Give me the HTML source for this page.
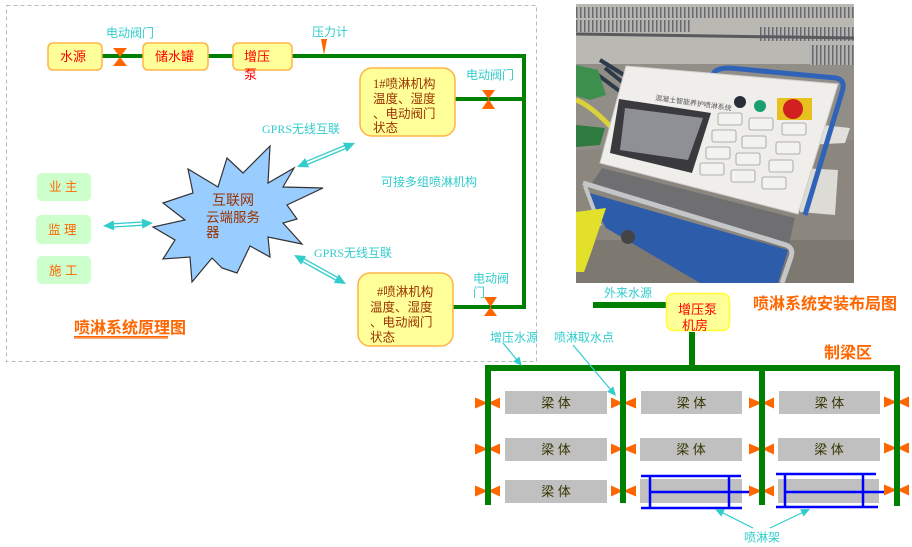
<!DOCTYPE html>
<html><head><meta charset="utf-8"><style>
html,body{margin:0;padding:0;background:#fff;}
body{width:912px;height:547px;overflow:hidden;}
svg{display:block;}
text{font-family:"Liberation Sans","Noto Sans CJK SC",sans-serif;}
.cy{fill:#33cccc;font-size:12px;}
.serif{font-family:"Liberation Serif","Noto Sans CJK SC",serif;}
</style></head><body>
<svg width="912" height="547" viewBox="0 0 912 547" xmlns="http://www.w3.org/2000/svg">
<defs>
<clipPath id="pc"><rect x="576" y="4" width="278" height="279"/></clipPath>
<pattern id="gr" width="4" height="4" patternUnits="userSpaceOnUse"><rect width="4" height="4" fill="#b4b4b4"/><rect width="1.5" height="4" fill="#6a6a6c"/></pattern>
</defs>

<!-- dashed frame -->
<rect x="6.5" y="5.5" width="530" height="356" fill="none" stroke="#bbbbbb" stroke-width="1" stroke-dasharray="4,3"/>

<!-- top pipe -->
<line x1="100" y1="56" x2="526" y2="56" stroke="#008000" stroke-width="4"/>
<line x1="524" y1="54" x2="524" y2="309" stroke="#008000" stroke-width="4"/>
<line x1="453" y1="99" x2="526" y2="99" stroke="#008000" stroke-width="4"/>
<line x1="451" y1="307" x2="526" y2="307" stroke="#008000" stroke-width="4"/>

<!-- boxes top row -->
<rect x="48" y="43" width="54" height="27" rx="5" fill="#ffff99" stroke="#ffb347" stroke-width="1.5"/>
<text x="60" y="61" font-size="13" fill="#ff0000">水源</text>
<rect x="143" y="43" width="65" height="27" rx="5" fill="#ffff99" stroke="#ffb347" stroke-width="1.5"/>
<text x="155" y="61" font-size="13" fill="#ff0000">储水罐</text>
<rect x="233" y="43" width="59" height="27" rx="5" fill="#ffff99" stroke="#ffb347" stroke-width="1.5"/>
<text x="244" y="61" font-size="13" fill="#ff0000">增压</text>
<text x="244" y="79" font-size="13" fill="#ff0000">泵</text>

<!-- valve top -->
<polygon points="113,48 127,48 120,57" fill="#ff6600"/>
<polygon points="113,66 127,66 120,57" fill="#ff6600"/>
<text x="106" y="37" class="cy">电动阀门</text>

<!-- pressure gauge -->
<polygon points="321,39 327,39 324,55" fill="#ff6600"/>
<text x="312" y="36" class="cy">压力计</text>

<!-- 1# box -->
<rect x="360" y="68" width="95" height="68" rx="12" fill="#ffff99" stroke="#ffb347" stroke-width="1.5"/>
<text font-size="12.5" fill="#993300"><tspan x="373" y="88"><tspan class="serif">1#</tspan>喷淋机构</tspan><tspan x="373" y="103">温度、湿度</tspan><tspan x="373" y="118">、电动阀门</tspan><tspan x="373" y="132">状态</tspan></text>
<polygon points="482,90 495,90 488.5,99" fill="#ff6600"/>
<polygon points="482,109 495,109 488.5,99" fill="#ff6600"/>
<text x="466" y="79" class="cy">电动阀门</text>

<!-- bottom machine box -->
<rect x="358" y="273" width="95" height="73" rx="12" fill="#ffff99" stroke="#ffb347" stroke-width="1.5"/>
<text font-size="12.5" fill="#993300"><tspan x="377" y="296"><tspan class="serif">#</tspan>喷淋机构</tspan><tspan x="370" y="311.5">温度、湿度</tspan><tspan x="370" y="326.5">、电动阀门</tspan><tspan x="370" y="341.5">状态</tspan></text>
<polygon points="484,297 497,297 490.5,307" fill="#ff6600"/>
<polygon points="484,316 497,316 490.5,307" fill="#ff6600"/>
<text x="473" y="282.5" class="cy">电动阀</text>
<text x="473" y="296.5" class="cy">门</text>

<text x="381" y="186" class="cy">可接多组喷淋机构</text>
<text x="262" y="133" class="cy"><tspan class="serif">GPRS</tspan>无线互联</text>
<text x="314" y="257" class="cy"><tspan class="serif">GPRS</tspan>无线互联</text>

<!-- green role boxes -->
<rect x="37" y="173" width="54" height="28" rx="5" fill="#ccffcc"/>
<text x="49" y="191" font-size="12.5" fill="#ff6600" xml:space="preserve">业 主</text>
<rect x="36" y="215" width="55" height="29" rx="5" fill="#ccffcc"/>
<text x="48" y="234" font-size="12.5" fill="#ff6600" xml:space="preserve">监 理</text>
<rect x="37" y="256" width="54" height="28" rx="5" fill="#ccffcc"/>
<text x="49" y="275" font-size="12.5" fill="#ff6600" xml:space="preserve">施 工</text>

<!-- star -->
<polygon points="270,146 268,183 294,168 283,187 323,188 287,205 297,219 283,223 302,244 268,237 270,257 250,246 237,273 222,268 212,258 192,282 190,257 163,259 175,240 153,227 185,220 163,203 193,193 188,169 218,187 227,158 243,173" fill="#99ccff" stroke="#333333" stroke-width="1.2" stroke-linejoin="miter"/>
<text x="212" y="205" font-size="14" fill="#993300">互联网</text>
<text x="206" y="222" font-size="13.5" fill="#993300">云端服务</text>
<text x="206" y="237" font-size="13.5" fill="#993300">器</text>

<!-- double arrows -->
<g fill="#33cccc" stroke="#33cccc">
<g transform="translate(103,226) rotate(-3.43)">
<polygon points="0,0 11,-5 11,5" stroke="none"/><polygon points="50.1,0 39.1,-5 39.1,5" stroke="none"/>
<line x1="10" y1="-1.6" x2="40" y2="-1.6" stroke-width="1.3"/><line x1="10" y1="1.6" x2="40" y2="1.6" stroke-width="1.3"/>
</g>
<g transform="translate(297,167) rotate(-22.48)">
<polygon points="0,0 11,-5 11,5" stroke="none"/><polygon points="62.8,0 51.8,-5 51.8,5" stroke="none"/>
<line x1="10" y1="-1.6" x2="53" y2="-1.6" stroke-width="1.3"/><line x1="10" y1="1.6" x2="53" y2="1.6" stroke-width="1.3"/>
</g>
<g transform="translate(294,255) rotate(29.15)">
<polygon points="0,0 11,-5 11,5" stroke="none"/><polygon points="59.5,0 48.5,-5 48.5,5" stroke="none"/>
<line x1="10" y1="-1.6" x2="50" y2="-1.6" stroke-width="1.3"/><line x1="10" y1="1.6" x2="50" y2="1.6" stroke-width="1.3"/>
</g>
</g>

<!-- title left -->
<text x="74" y="333" font-size="16" font-weight="bold" fill="#ff6600">喷淋系统原理图</text>
<rect x="74" y="336" width="94" height="1.5" fill="#ff6600"/>
<rect x="74" y="337.5" width="94" height="1.5" fill="#ffb080"/>

<!-- PHOTO -->
<g clip-path="url(#pc)">
<rect x="576" y="4" width="278" height="279" fill="#918e88"/>
<rect x="576" y="4" width="278" height="60" fill="#bab8b2"/>
<rect x="576" y="7" width="278" height="11" fill="url(#gr)"/>
<rect x="576" y="20" width="115" height="12" fill="url(#gr)"/>
<rect x="760" y="27" width="94" height="14" fill="url(#gr)"/>
<rect x="810" y="45" width="44" height="20" fill="url(#gr)"/>
<line x1="576" y1="34" x2="854" y2="38" stroke="#5a5a5e" stroke-width="3"/>
<polygon points="576,150 854,140 854,283 576,283" fill="#8b877f"/>
<rect x="576" y="240" width="278" height="43" fill="#7e7970"/>
<path d="M600,60 L640,85 M605,68 L632,90 M598,75 L625,95" stroke="#2d3a4a" stroke-width="4" fill="none"/>
<polygon points="576,65 598,70 606,95 590,100 576,96" fill="#3d8f4d"/>
<polygon points="576,125 605,128 600,145 576,147" fill="#2f7a3e"/>
<path d="M576,100 Q590,105 612,128" stroke="#d9d23a" stroke-width="5" fill="none"/>
<polygon points="803,123 850,128 845,143 805,145" fill="#e2e0dc"/>
<polygon points="800,168 838,170 835,215 800,212" fill="#dddbd6"/>
<path d="M713,74 Q716,68 730,68 L836,78 Q846,80 842,92 L805,215" stroke="#2f63b8" stroke-width="5" fill="none"/>
<polygon points="602,168 795,218 788,248 590,186" fill="#6f6f72"/>
<polygon points="586,192 788,250 778,283 700,283 606,228" fill="#2d5cab"/>
<path d="M583,183 L786,245 Q794,248 791,257 L782,283" stroke="#c4c6c8" stroke-width="5" fill="none"/>
<path d="M585,186 L600,226" stroke="#c4c6c8" stroke-width="4"/>
<circle cx="628" cy="237" r="7" fill="#444"/>
<polygon points="576,212 606,208 592,250 584,272 576,272" fill="#e3e02c"/>
<polygon points="626,66 838,84 798,214 600,163" fill="#efeeeb" stroke="#cfcfcc" stroke-width="1"/>
<polygon points="619,99 711,113 692,173 610,153" fill="#3a3a3e"/>
<polygon points="625,108 703,118 688,160 620,150" fill="#8e9096"/>
<text x="655" y="100" font-size="7" fill="#555" transform="rotate(8 655 100)">混凝土智能养护喷淋系统</text>
<circle cx="740" cy="102" r="6" fill="#2a2e38"/>
<circle cx="760" cy="106" r="6" fill="#1aa070"/>
<rect x="777" y="98" width="35" height="22" fill="#e8c020"/>
<circle cx="793" cy="109" r="10" fill="#d02020"/>
<g fill="#f2f2f0" stroke="#9a9a9a" stroke-width="0.8">
<rect x="718" y="113" width="24" height="12" rx="2"/><rect x="712" y="130" width="24" height="12" rx="2"/><rect x="706" y="147" width="24" height="12" rx="2"/><rect x="700" y="163" width="24" height="12" rx="2"/>
<rect x="749" y="118" width="24" height="12" rx="2"/><rect x="742" y="136" width="24" height="12" rx="2"/><rect x="736" y="153" width="24" height="12" rx="2"/><rect x="731" y="170" width="24" height="12" rx="2"/>
<rect x="782" y="123" width="24" height="12" rx="2"/><rect x="776" y="142" width="24" height="12" rx="2"/><rect x="769" y="160" width="24" height="12" rx="2"/><rect x="762" y="177" width="24" height="12" rx="2"/>
</g>
</g>

<!-- right bottom layout -->
<text x="604" y="297" class="cy">外来水源</text>
<line x1="593" y1="305" x2="668" y2="305" stroke="#008000" stroke-width="6"/>
<rect x="666.5" y="293.5" width="63" height="37" rx="7" fill="#ffff99" stroke="#ffff33" stroke-width="1.5"/>
<text x="678" y="314" font-size="13" fill="#ff0000">增压泵</text>
<text x="682" y="330" font-size="13" fill="#ff0000">机房</text>
<text x="753" y="309" font-size="16" font-weight="bold" fill="#ff6600">喷淋系统安装布局图</text>
<text x="824" y="358" font-size="16" font-weight="bold" fill="#ff6600">制梁区</text>
<text x="490" y="341.5" class="cy">增压水源</text>
<text x="554" y="341.5" class="cy">喷淋取水点</text>
<text x="744" y="541.5" class="cy">喷淋架</text>

<line x1="692" y1="332" x2="692" y2="368" stroke="#008000" stroke-width="6"/>

<!-- beams -->
<g fill="#c0c0c0">
<rect x="505" y="391" width="102" height="23"/><rect x="641" y="391" width="101" height="23"/><rect x="779" y="391" width="101" height="23"/>
<rect x="505" y="438" width="102" height="23"/><rect x="640" y="438" width="102" height="23"/><rect x="778" y="438" width="102" height="23"/>
<rect x="505" y="480" width="102" height="23"/><rect x="640" y="479" width="102" height="24"/><rect x="778" y="479" width="101" height="24"/>
</g>
<g font-size="13" fill="#333300" text-anchor="middle">
<text x="556" y="407.5" xml:space="preserve">梁 体</text><text x="691.5" y="407.5" xml:space="preserve">梁 体</text><text x="829.5" y="407.5" xml:space="preserve">梁 体</text>
<text x="556" y="454" xml:space="preserve">梁 体</text><text x="691" y="454" xml:space="preserve">梁 体</text><text x="829" y="454" xml:space="preserve">梁 体</text>
<text x="556" y="496" xml:space="preserve">梁 体</text>
</g>

<!-- spray frames -->
<g stroke="#0000ff" stroke-width="2.5">
<line x1="641" y1="476" x2="741" y2="476"/><line x1="641" y1="508" x2="742" y2="508"/>
<line x1="650" y1="476" x2="650" y2="508"/><line x1="729" y1="476" x2="729" y2="508"/>
<line x1="650" y1="492" x2="752" y2="492"/>
<line x1="776" y1="474" x2="876" y2="474"/><line x1="776" y1="507" x2="878" y2="507"/>
<line x1="785" y1="474" x2="785" y2="507"/><line x1="863" y1="474" x2="863" y2="507"/>
<line x1="785" y1="492" x2="887" y2="492"/>
</g>

<!-- valves -->
<g fill="#ff6600">
<polygon points="475,397.5 475,408.5 488,403"/><polygon points="500,397.5 500,408.5 488,403"/>
<polygon points="475,443.5 475,454.5 488,449"/><polygon points="500,443.5 500,454.5 488,449"/>
<polygon points="475,485.5 475,496.5 488,491"/><polygon points="500,485.5 500,496.5 488,491"/>
<polygon points="611,397.5 611,408.5 623,403"/><polygon points="636,397.5 636,408.5 623,403"/>
<polygon points="611,443.5 611,454.5 623,449"/><polygon points="636,443.5 636,454.5 623,449"/>
<polygon points="611,485.5 611,496.5 623,491"/><polygon points="636,485.5 636,496.5 623,491"/>
<polygon points="749,397.5 749,408.5 762,403"/><polygon points="774,397.5 774,408.5 762,403"/>
<polygon points="749,443.5 749,454.5 762,449"/><polygon points="774,443.5 774,454.5 762,449"/>
<polygon points="749,485.5 749,496.5 762,491"/><polygon points="774,485.5 774,496.5 762,491"/>
<polygon points="884,396.5 884,407.5 897,402"/><polygon points="909,396.5 909,407.5 897,402"/>
<polygon points="884,442.5 884,453.5 897,448"/><polygon points="909,442.5 909,453.5 897,448"/>
<polygon points="884,484.5 884,495.5 897,490"/><polygon points="909,484.5 909,495.5 897,490"/>
</g>

<!-- pipes -->
<line x1="485" y1="368" x2="900" y2="368" stroke="#008000" stroke-width="6"/>
<g stroke="#008000" stroke-width="6">
<line x1="488" y1="366" x2="488" y2="505"/>
<line x1="623" y1="366" x2="623" y2="503"/>
<line x1="762" y1="366" x2="762" y2="505"/>
<line x1="897" y1="366" x2="897" y2="506"/>
</g>

<!-- thin arrows -->
<g fill="#33cccc" stroke="#33cccc" stroke-width="1.2">
<g transform="translate(503,343) rotate(50.44)"><line x1="0" y1="0" x2="22" y2="0"/><polygon points="29.8,0 20.8,-4 20.8,4" stroke="none"/></g>
<g transform="translate(573,345) rotate(49.87)"><line x1="0" y1="0" x2="59" y2="0"/><polygon points="66.7,0 57.7,-4 57.7,4" stroke="none"/></g>
<g transform="translate(753,528) rotate(206.57)"><line x1="0" y1="0" x2="35" y2="0"/><polygon points="42.5,0 33.5,-4 33.5,4" stroke="none"/></g>
<g transform="translate(770,528) rotate(-25.4)"><line x1="0" y1="0" x2="37" y2="0"/><polygon points="44.3,0 35.3,-4 35.3,4" stroke="none"/></g>
</g>
</svg>
</body></html>
